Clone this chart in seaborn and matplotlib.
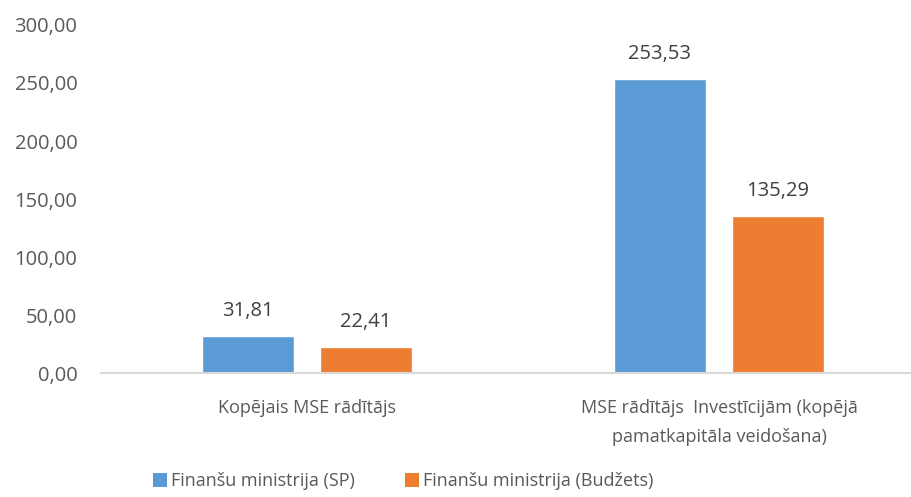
import matplotlib
matplotlib.use("Agg")
import matplotlib.pyplot as plt
import matplotlib.ticker as mticker
from matplotlib.patches import Patch
import pandas as pd
import seaborn as sns

categories = ["Kopējais MSE rādītājs",
              "MSE rādītājs  Investīcijām (kopējā\npamatkapitāla veidošana)"]
series = ["Finanšu ministrija (SP)", "Finanšu ministrija (Budžets)"]
sp_values = [31.81, 253.53]
budget_values = [22.41, 135.29]
colors = ["#5B9BD5", "#ED7D31"]

df = pd.DataFrame({
    "category": categories * 2,
    "series": [series[0]] * 2 + [series[1]] * 2,
    "value": sp_values + budget_values,
})

sns.set_style("white")
plt.rcParams["font.family"] = ["Open Sans", "DejaVu Sans"]

fig = plt.figure(figsize=(9.12, 4.97), dpi=100)
ax = fig.add_axes([101 / 912, 1 - 373 / 497, 824 / 912, 348 / 497])

sns.barplot(data=df, x="category", y="value", hue="series", order=categories,
            hue_order=series, palette=colors, width=0.573, gap=0.22,
            saturation=1, legend=False, ax=ax)

for cont in ax.containers:
    ax.bar_label(cont, labels=[f"{v:.2f}".replace(".", ",") for v in cont.datavalues],
                 padding=11, fontsize=14.5, color="#404040")

ax.set_xlim(-0.5, 1.5)
ax.set_ylim(0, 300)
ax.set_yticks(range(0, 301, 50))
ax.yaxis.set_major_formatter(mticker.FuncFormatter(lambda v, p: f"{v:.2f}".replace(".", ",")))
ax.tick_params(axis="y", labelsize=14.5, labelcolor="#595959", length=0, pad=17)
ax.tick_params(axis="x", labelsize=13, labelcolor="#595959", length=0, pad=19)
for lab in ax.get_xticklabels():
    lab.set_linespacing(1.75)
ax.set_xlabel("")
ax.set_ylabel("")
for s in ["top", "right", "left"]:
    ax.spines[s].set_visible(False)
ax.spines["bottom"].set_color("#D9D9D9")
ax.spines["bottom"].set_linewidth(1.5)

handles = [Patch(facecolor=c, edgecolor="none") for c in colors]
fig.legend(handles, series, loc="center", bbox_to_anchor=(403 / 912, 1 - 481 / 497),
           ncol=2, frameon=False, fontsize=13, handlelength=0.8, handleheight=0.8,
           handletextpad=0.2, columnspacing=2.8, labelcolor="#595959")

fig.savefig("out.png", dpi=100)
